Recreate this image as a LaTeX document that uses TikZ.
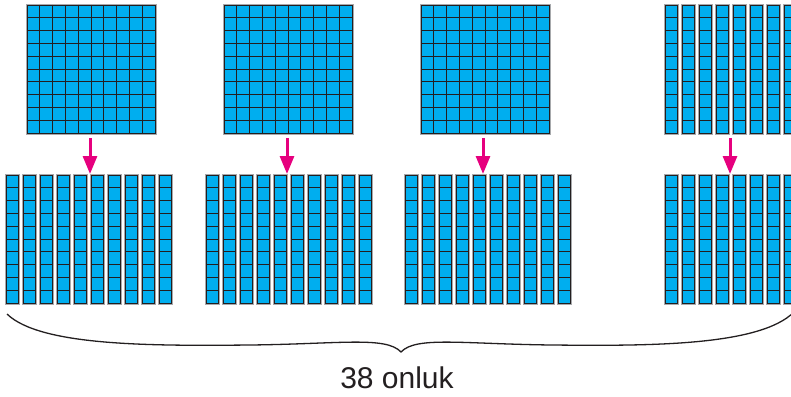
\documentclass[tikz,border=0pt]{standalone}
\usepackage{fontspec}
\setmainfont{Liberation Sans}
\usepackage{xcolor}
\usepackage{tikz}
\usetikzlibrary{arrows.meta,positioning,calc}
\definecolor{cCyan}{HTML}{00AEEF}
\definecolor{cInk}{HTML}{231F20}
\definecolor{cMag}{HTML}{E6007E}
\definecolor{cHalo}{HTML}{A7A9AC}
\tikzset{
  cell/.style={draw=cInk,fill=cCyan,line width=0.9pt},
  rule/.style={draw=cInk,line width=0.9pt},
  halo/.style={fill=cHalo},
  down/.style={-{Triangle[length=18pt,width=14pt]},line width=3pt,draw=cMag},
  bracepath/.style={draw=cInk,line width=1.3pt},
  block/.style={inner sep=0pt,anchor=north west},
}
\begin{document}
\begin{tikzpicture}[x=1pt,y=1pt]
  \useasboundingbox (0,0) rectangle (791,-396);
  \begin{scope}
  \clip (0,0) rectangle (791,-396);
  % hundreds
  \foreach \n/\x in {1/27,2/224,3/421} {
    \node[block,minimum width=128pt,minimum height=128pt] (hund\n) at (\x,-5) {};
    \fill[halo] (\x-1,-4) rectangle (\x+129.5,-134.5);
    \draw[cell] (\x,-5) rectangle (\x+128,-133);
    \draw[rule] \foreach \i in {1,...,9} {(\x+12.8*\i,-5) -- (\x+12.8*\i,-133)
      (\x,-5-12.8*\i) -- (\x+128,-5-12.8*\i)};
  }
  % the eight loose tens on top
  \node[block,minimum width=131pt,minimum height=128pt] (hund4) at (665,-5) {};
  \foreach \i in {0,...,7} {
    \pgfmathsetmacro{\rx}{665+17*\i}
    \fill[halo] (\rx-1,-4) rectangle (\rx+13.5,-134.5);
    \draw[cell] (\rx,-5) rectangle (\rx+12,-133);
    \draw[rule] \foreach \j in {1,...,9} {(\rx,-5-12.8*\j) -- (\rx+12,-5-12.8*\j)};
  }
  % tens below
  \foreach \n/\x/\k in {1/6/9,2/206/9,3/405/9,4/665/7} {
    \node[block,minimum width=165pt,minimum height=128pt] (tens\n) at (\x,-175) {};
    \foreach \i in {0,...,\k} {
      \pgfmathsetmacro{\rx}{\x+17*\i}
      \fill[halo] (\rx-1,-174) rectangle (\rx+13.5,-304.5);
      \draw[cell] (\rx,-175) rectangle (\rx+12,-303);
      \draw[rule] \foreach \j in {1,...,9} {(\rx,-175-12.8*\j) -- (\rx+12,-175-12.8*\j)};
    }
  }
  \end{scope}
  % arrows
  \foreach \n/\x in {1/90,2/287,3/483,4/730} {
    \coordinate (from\n) at (\x,-138);
    \coordinate (to\n) at (\x,-174);
    \draw[down] (from\n) -- (to\n);
  }
  % brace and label
  \begin{scope}
  \clip (0,0) rectangle (791,-396);
  \draw[bracepath] (7,-314) .. controls (40,-346) and (150,-346) .. (250,-345)
    .. controls (340,-344) and (386,-336) .. (401,-352)
    .. controls (416,-336) and (462,-344) .. (552,-345)
    .. controls (650,-346) and (760,-346) .. (794,-312);
  \end{scope}
  \node[font=\fontsize{30}{36}\selectfont,text=cInk] (total) at (397,-378) {38 onluk};
\end{tikzpicture}
\end{document}
